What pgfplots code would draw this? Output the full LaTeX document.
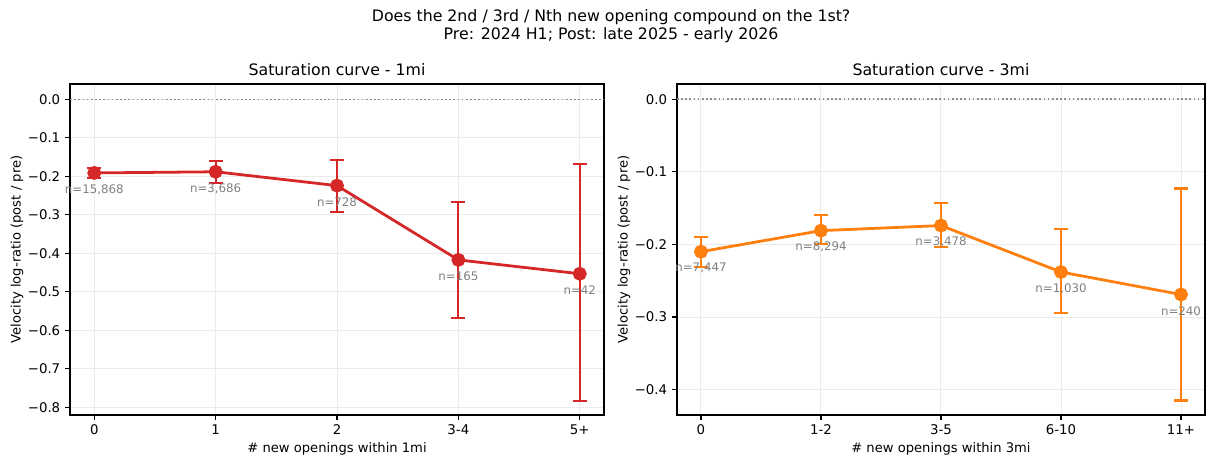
\documentclass[border=0pt]{standalone}
\usepackage{pgfplots}
\pgfplotsset{compat=1.18}
\usepackage{fontspec}
\setmainfont{DejaVu Sans}
\definecolor{cred}{HTML}{D62728}
\definecolor{corange}{HTML}{FF7F0E}
\definecolor{gridc}{HTML}{EBEBEB}
\definecolor{anncol}{HTML}{808080}
\definecolor{zcol}{HTML}{8C8C8C}
\pgfplotsset{
  sat/.style={
    scale only axis, height=238.3pt, anchor=south west,
    xmin=-0.2, xmax=4.2, xtick={0,1,2,3,4},
    tick align=outside, tick pos=left, major tick length=3.5pt,
    tick style={black, line width=0.8pt},
    axis line style={line width=0.8pt},
    grid=major, grid style={gridc, line width=0.7pt},
    tick label style={font=\fontsize{9.6}{11}\selectfont},
    label style={font=\fontsize{9.45}{11}\selectfont},
    every axis title/.style={font=\fontsize{11.35}{13}\selectfont, at={(0.5,1)}, anchor=base, yshift=5.8pt},
    xlabel style={at={(axis description cs:0.5,0)}, anchor=center, yshift=-24.5pt},
  },
  ann/.style={draw=none, nodes near coords, point meta=explicit symbolic,
    every node near coord/.append style={anchor=center, yshift=-12pt,
      font=\fontsize{8.5}{10}\selectfont, text=anncol}},
  zline/.style={color=zcol, line width=1.2pt, dash pattern=on 1.2pt off 1.8pt, forget plot},
}
\begin{document}
\begin{tikzpicture}
\path[use as bounding box] (0,0) rectangle (868.32pt,331.2pt);
\node[font=\fontsize{11.35}{13}\selectfont, align=center] at (440pt,312.5pt)
  {Does the 2nd / 3rd / Nth new opening compound on the 1st?\\Pre: 2024 H1; Post: late 2025 - early 2026};

\begin{axis}[sat, at={(50.4pt,32.4pt)}, width=384.5pt,
  ymin=-0.82, ymax=0.04,
  ytick={-0.8,-0.7,-0.6,-0.5,-0.4,-0.3,-0.2,-0.1,0},
  yticklabels={−0.8,−0.7,−0.6,−0.5,−0.4,−0.3,−0.2,−0.1,0.0},
  xticklabels={0,1,2,3-4,5+},
  title={Saturation curve - 1mi},
  xlabel={\# new openings within 1mi},
  ylabel={Velocity log-ratio (post / pre)},
  ylabel style={at={(axis description cs:-0.0993,0.5)}, anchor=center},
]
\addplot[zline] coordinates {(-0.2,0) (4.2,0)};
\addplot[ann] table[meta=lab] {
x y lab
0 -0.191 n=15,868
1 -0.188 n=3,686
2 -0.224 n=728
3 -0.417 n=165
4 -0.453 n=42
};
\addplot[cred, line width=2pt, mark=*, mark size=4pt, mark options={solid, fill=cred},
  error bars/.cd, y dir=both, y explicit,
  error bar style={line width=1.5pt, cred},
  error mark options={rotate=90, mark size=5pt, line width=1.5pt, cred}]
coordinates {
(0,-0.191) += (0,0.013) -= (0,0.014)
(1,-0.188) += (0,0.029) -= (0,0.029)
(2,-0.224) += (0,0.067) -= (0,0.069)
(3,-0.417) += (0,0.151) -= (0,0.150)
(4,-0.453) += (0,0.286) -= (0,0.330)
};
\end{axis}

\begin{axis}[sat, at={(487.4pt,32.4pt)}, width=380.2pt,
  ymin=-0.435, ymax=0.021,
  ytick={-0.4,-0.3,-0.2,-0.1,0},
  yticklabels={−0.4,−0.3,−0.2,−0.1,0.0},
  xticklabels={0,1-2,3-5,6-10,11+},
  title={Saturation curve - 3mi},
  xlabel={\# new openings within 3mi},
  ylabel={Velocity log-ratio (post / pre)},
  ylabel style={at={(axis description cs:-0.1004,0.5)}, anchor=center},
]
\addplot[zline] coordinates {(-0.2,0) (4.2,0)};
\addplot[ann] table[meta=lab] {
x y lab
0 -0.210 n=7,447
1 -0.181 n=8,294
2 -0.174 n=3,478
3 -0.238 n=1,030
4 -0.269 n=240
};
\addplot[corange, line width=2pt, mark=*, mark size=4pt, mark options={solid, fill=corange},
  error bars/.cd, y dir=both, y explicit,
  error bar style={line width=1.5pt, corange},
  error mark options={rotate=90, mark size=5pt, line width=1.5pt, corange}]
coordinates {
(0,-0.210) += (0,0.0205) -= (0,0.021)
(1,-0.181) += (0,0.021) -= (0,0.019)
(2,-0.174) += (0,0.031) -= (0,0.029)
(3,-0.238) += (0,0.0595) -= (0,0.0565)
(4,-0.269) += (0,0.146) -= (0,0.146)
};
\end{axis}
\end{tikzpicture}
\end{document}
